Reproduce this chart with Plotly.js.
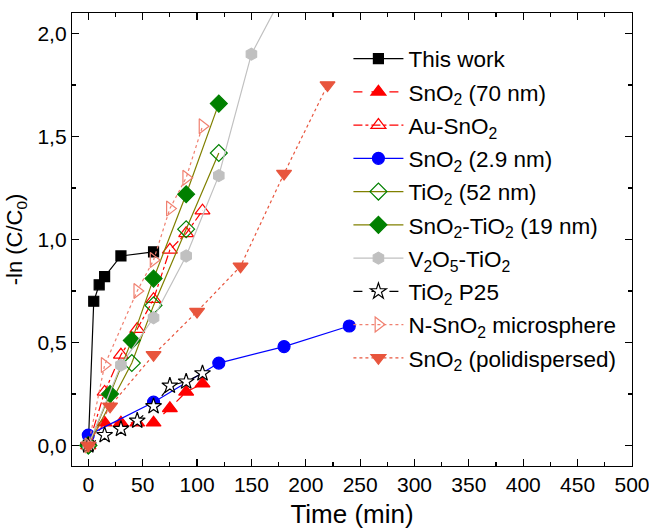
<!DOCTYPE html>
<html>
<head>
<meta charset="utf-8">
<script src="https://cdn.plot.ly/plotly-3.0.1.min.js"></script>
<style>html,body{margin:0;padding:0;background:#fff;}#chart{width:649px;height:529px;}</style>
</head>
<body>
<div id="chart"></div>
<script>
// ---- data ----
const thisWorkX = [0, 5, 10, 15, 30, 60];
const thisWorkY = [0, 0.70, 0.78, 0.82, 0.92, 0.94];

const sno2_70X = [0, 15, 30, 45, 60, 75, 90, 105];
const sno2_70Y = [0, 0.11, 0.11, 0.11, 0.11, 0.18, 0.26, 0.30];

const auSno2X = [0, 15, 30, 45, 60, 75, 90, 105];
const auSno2Y = [0, 0.26, 0.44, 0.565, 0.71, 0.95, 1.03, 1.14];

const sno2_29X = [0, 60, 120, 180, 240];
const sno2_29Y = [0.05, 0.21, 0.40, 0.48, 0.58];

const tio2_52X = [0, 40, 60, 90, 120];
const tio2_52Y = [0, 0.40, 0.68, 1.05, 1.42];

const sno2tio2X = [0, 20, 40, 60, 90, 120];
const sno2tio2Y = [0, 0.25, 0.51, 0.81, 1.22, 1.66];

const v2o5X = [0, 30, 60, 90, 120, 150, 180];
const v2o5Y = [0, 0.39, 0.62, 0.92, 1.31, 1.90, 2.20];

const p25X = [0, 15, 30, 45, 60, 75, 90, 105];
const p25Y = [0, 0.05, 0.08, 0.12, 0.19, 0.29, 0.31, 0.35];

const nsno2X = [0, 15, 45, 60, 75, 90, 105];
const nsno2Y = [0, 0.39, 0.75, 0.90, 1.15, 1.30, 1.55];

const polyX = [0, 20, 60, 100, 140, 180, 220];
const polyY = [0, 0.19, 0.44, 0.65, 0.87, 1.32, 1.75];

const xTickVals = [0, 50, 100, 150, 200, 250, 300, 350, 400, 450, 500];
const yTickVals = [0, 0.5, 1.0, 1.5, 2.0];

let groupIdx = 0;
function tr(name, x, y, lineColor, dash, symbol, mColor, mFill, size) {
  groupIdx += 1;
  return {
    type: 'scatter', mode: 'lines+markers', name: name, x: x, y: y,
    legendgroup: 'g' + groupIdx,
    line: {color: lineColor, width: 1.2, dash: dash},
    marker: {symbol: symbol, size: size, color: mFill,
             line: {color: mColor, width: 1.2}},
    cliponaxis: true
  };
}

const data = [
  tr('This work', thisWorkX, thisWorkY, '#000000', 'solid', 'square', '#000000', '#000000', 10),
  tr('SnO<sub>2</sub> (70 nm)', sno2_70X, sno2_70Y, '#FF0000', 'dash', 'triangle-up', '#FF0000', '#FF0000', 13),
  tr('Au-SnO<sub>2</sub>', auSno2X, auSno2Y, '#FF0000', 'dashdot', 'triangle-up-open', '#FF0000', '#FF0000', 13),
  tr('SnO<sub>2</sub> (2.9 nm)', sno2_29X, sno2_29Y, '#0000FF', 'solid', 'circle', '#0000FF', '#0000FF', 12),
  tr('TiO<sub>2</sub> (52 nm)', tio2_52X, tio2_52Y, '#808000', 'solid', 'diamond-open', '#008000', '#008000', 13),
  tr('SnO<sub>2</sub>-TiO<sub>2</sub> (19 nm)', sno2tio2X, sno2tio2Y, '#808000', 'solid', 'diamond', '#008000', '#008000', 13),
  tr('V<sub>2</sub>O<sub>5</sub>-TiO<sub>2</sub>', v2o5X, v2o5Y, '#C0C0C0', 'solid', 'hexagon', '#C0C0C0', '#C0C0C0', 12),
  tr('TiO<sub>2</sub> P25', p25X, p25Y, '#000000', 'dash', 'star', '#000000', '#FFFFFF', 12),
  tr('N-SnO<sub>2</sub> microsphere', nsno2X, nsno2Y, '#F08070', 'dot', 'triangle-right-open', '#F08070', '#F08070', 13),
  tr('SnO<sub>2</sub> (polidispersed)', polyX, polyY, '#E8553D', 'dot', 'triangle-down', '#E8553D', '#E8553D', 13)
];

const fontFam = 'Liberation Sans, Arial, sans-serif';

const layout = {
  width: 649, height: 529,
  margin: {l: 72, r: 17, t: 13, b: 63},
  paper_bgcolor: '#ffffff', plot_bgcolor: '#ffffff',
  separators: ',.',
  font: {family: fontFam, color: '#000000', size: 21},
  showlegend: true,
  legend: {
    x: 0.4936, y: 0.946, xanchor: 'left', yanchor: 'top',
    bgcolor: 'rgba(0,0,0,0)', borderwidth: 0,
    font: {family: fontFam, size: 22.5, color: '#000000'},
    itemwidth: 50, tracegroupgap: 1
  },
  xaxis: {
    range: [-15, 500],
    tickvals: xTickVals,
    ticklabeloverflow: 'allow',
    ticks: 'inside', ticklen: 7, tickwidth: 1.2, tickcolor: '#000',
    minor: {ticks: 'inside', dtick: 25, ticklen: 4, tickwidth: 1.2, tickcolor: '#000'},
    showline: true, linecolor: '#000', linewidth: 1.2, mirror: 'ticks',
    showgrid: false, zeroline: false,
    tickfont: {family: fontFam, size: 21},
    title: {text: 'Time (min)', font: {family: fontFam, size: 26}, standoff: 10}
  },
  yaxis: {
    range: [-0.1, 2.1],
    tickvals: yTickVals, tickformat: '.1f',
    ticks: 'inside', ticklen: 7, tickwidth: 1.2, tickcolor: '#000',
    minor: {ticks: 'inside', dtick: 0.25, ticklen: 4, tickwidth: 1.2, tickcolor: '#000'},
    showline: true, linecolor: '#000', linewidth: 1.2, mirror: 'ticks',
    showgrid: false, zeroline: false,
    tickfont: {family: fontFam, size: 21},
    title: {text: '-ln (C/C<sub>0</sub>)', font: {family: fontFam, size: 22}, standoff: 8}
  }
};

Plotly.newPlot('chart', data, layout, {displayModeBar: false, staticPlot: true});
</script>
</body>
</html>
